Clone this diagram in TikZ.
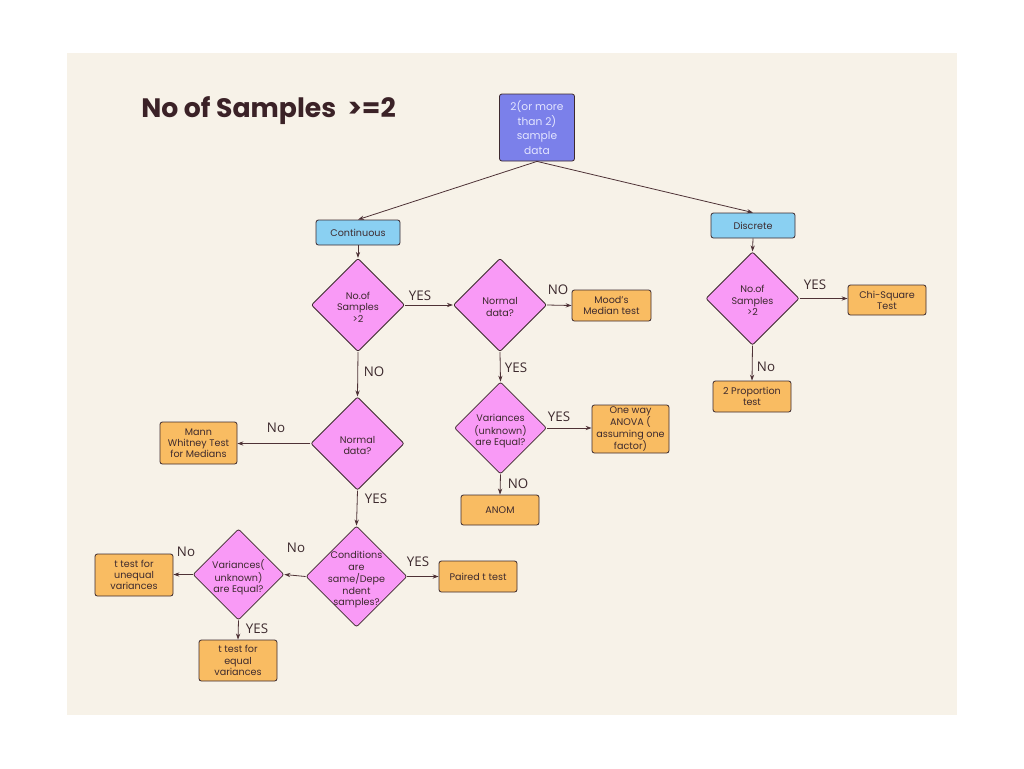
\documentclass[tikz,border=0pt]{standalone}
\usepackage{fontspec}
\setmainfont{Poppins}
\newfontfamily\lblfont{Open Sans}
\usetikzlibrary{shapes.geometric,arrows.meta}
\definecolor{bgcream}{HTML}{F7F2E8}
\definecolor{inkdark}{HTML}{3D2A2E}
\definecolor{linec}{HTML}{4E3236}
\definecolor{rootc}{HTML}{7B80EA}
\definecolor{roott}{HTML}{E4E6FF}
\definecolor{bluec}{HTML}{8AD0F2}
\definecolor{pinkc}{HTML}{F99AF6}
\definecolor{orangec}{HTML}{F9BC62}
\definecolor{titlec}{HTML}{3B2227}
\newcommand{\ztext}[1]{\makebox[0pt]{\smash{\raisebox{-4.2pt}{\begin{tabular}{@{}c@{}}#1\end{tabular}}}}}
\tikzset{
  boxbase/.style={draw=inkdark, line width=0.6pt, rounded corners=1.8pt, inner sep=0pt, align=center, text=inkdark, font=\fontsize{7.2}{8.4}\selectfont},
  rootbox/.style={boxbase, fill=rootc, text=roott, minimum width=56.25pt, minimum height=50.25pt, font=\fontsize{8}{11}\selectfont},
  catbox/.style={boxbase, fill=bluec, minimum width=63pt, minimum height=18.75pt},
  resbox/.style={boxbase, fill=orangec, minimum width=58.5pt, minimum height=23.25pt},
  dia/.style={diamond, draw=inkdark, line width=0.6pt, fill=pinkc, inner sep=0pt, rounded corners=1.5pt, minimum width=#1, minimum height=#1, text=inkdark, font=\fontsize{7.2}{8.6}\selectfont},
  conn/.style={draw=linec, line width=0.6pt, -{Stealth[length=4.5pt,width=3.2pt]}},
  lbl/.style={font=\lblfont\fontsize{10}{10}\selectfont, text=inkdark, inner sep=0pt}
}
\begin{document}
\begin{tikzpicture}[x=0.75pt,y=-0.75pt]
\useasboundingbox (0,0) rectangle (1024,768);
\fill[white] (0,0) rectangle (1024,768);
\fill[bgcream] (67,53) rectangle (957,715);
% title
\node[font=\bfseries\fontsize{20}{20}\selectfont, text=titlec, anchor=west, inner sep=0pt] (title) at (141,111) {No of Samples\ \ >=2};
% nodes
\node[rootbox] (root) at (537,127.5) {2(or more\\than 2)\\sample\\data};
\node[catbox] (cont) at (358,232.5) {Continuous};
\node[catbox] (disc) at (753,225.5) {Discrete};
\node[dia=70pt] (d1) at (358,305) {\ztext{No.of\\Samples\\>2}};
\node[dia=70pt] (d2) at (500,305) {\ztext{Normal\\data?}};
\node[resbox, minimum width=59.25pt] (mood) at (611.5,305.5) {Mood's\\Median test};
\node[dia=70pt] (d3) at (357.5,443.5) {\ztext{Normal\\data?}};
\node[dia=69pt] (d4) at (500.5,428) {\ztext{Variances\\(unknown)\\are Equal?}};
\node[resbox, minimum width=57.75pt, minimum height=36pt] (anova) at (630.5,429) {One way\\ANOVA (\\assuming one\\factor)};
\node[resbox, minimum height=22.5pt] (anom) at (500,510) {ANOM};
\node[resbox, minimum width=57.75pt, minimum height=31.5pt] (mann) at (198.5,443) {Mann\\Whitney Test\\for Medians};
\node[dia=75.75pt] (d5) at (356.5,576.5) {\ztext{Conditions\\are\\same/Depe\\ndent\\samples?}};
\node[resbox] (paired) at (478,576.5) {Paired t test};
\node[dia=68.25pt] (d6) at (238.5,574.5) {\ztext{Variances(\\unknown)\\are Equal?}};
\node[resbox, minimum height=31.5pt] (uneq) at (134,575) {t test for\\unequal\\variances};
\node[resbox, minimum height=30.75pt] (eq) at (238,660.5) {t test for\\equal\\variances};
\node[dia=70pt] (d7) at (752.5,298.5) {\ztext{No.of\\Samples\\>2}};
\node[resbox, minimum height=22.5pt] (chi) at (887,300) {Chi-Square\\Test};
\node[resbox] (prop) at (752,396.5) {2 Proportion\\test};
% connectors
\draw[conn] (root.south) -- (cont.north);
\draw[conn] (root.south) -- (disc.north);
\draw[conn] (cont.south) -- (d1.north);
\draw[conn] (d1.east) -- (d2.west);
\draw[conn] (d2.east) -- (mood.west);
\draw[conn] (d1.south) -- (d3.north);
\draw[conn] (d2.south) -- (d4.north);
\draw[conn] (d4.east) -- (anova.west |- d4.east);
\draw[conn] (d4.south) -- (anom.north);
\draw[conn] (d3.west) -- (mann.east |- d3.west);
\draw[conn] (d3.south) -- (d5.north);
\draw[conn] (d5.east) -- (paired.west);
\draw[conn] (d5.west) -- (d6.east);
\draw[conn] (d6.west) -- (uneq.east |- d6.west);
\draw[conn] (d6.south) -- (eq.north);
\draw[conn] (disc.south) -- (d7.north);
\draw[conn] (d7.east) -- (chi.west |- d7.east);
\draw[conn] (d7.south) -- (prop.north);
% labels
\node[lbl] (l1) at (420,296) {YES};
\node[lbl] (l2) at (558,290) {NO};
\node[lbl] (l3) at (374,372) {NO};
\node[lbl] (l4) at (516,368) {YES};
\node[lbl] (l5) at (559,417) {YES};
\node[lbl] (l6) at (518,484) {NO};
\node[lbl] (l7) at (276,428) {No};
\node[lbl] (l8) at (376,499) {YES};
\node[lbl] (l9) at (418,562) {YES};
\node[lbl] (l10) at (296,548) {No};
\node[lbl] (l11) at (186,552) {No};
\node[lbl] (l12) at (257,629) {YES};
\node[lbl] (l13) at (815,285) {YES};
\node[lbl] (l14) at (766,367) {No};
\end{tikzpicture}
\end{document}
